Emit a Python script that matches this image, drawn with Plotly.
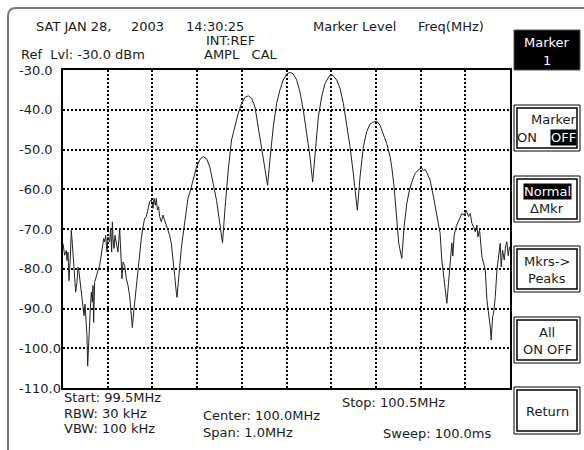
import plotly.graph_objects as go

# spectrum trace
freq_mhz = [
    99.5000, 99.5037, 99.5075, 99.5089, 99.5112, 99.5134, 99.5164, 99.5186, 99.5209, 99.5239,
    99.5261, 99.5283, 99.5313, 99.5336, 99.5358, 99.5388, 99.5410, 99.5447, 99.5470, 99.5492,
    99.5507, 99.5537, 99.5552, 99.5567, 99.5582, 99.5611, 99.5634, 99.5656, 99.5671, 99.5686,
    99.5708, 99.5746, 99.5783, 99.5820, 99.5858, 99.5880, 99.5910, 99.5932, 99.5955, 99.5984,
    99.6007, 99.6044, 99.6066, 99.6089, 99.6104, 99.6119, 99.6141, 99.6163, 99.6193, 99.6230,
    99.6268, 99.6290, 99.6320, 99.6342, 99.6380, 99.6417, 99.6454, 99.6491, 99.6529, 99.6551,
    99.6581, 99.6611, 99.6641, 99.6678, 99.6715, 99.6752, 99.6790, 99.6827, 99.6864, 99.6902,
    99.6939, 99.6976, 99.7013, 99.7036, 99.7066, 99.7088, 99.7110, 99.7140, 99.7163, 99.7200,
    99.7237, 99.7274, 99.7312, 99.7349, 99.7386, 99.7424, 99.7461, 99.7498, 99.7535, 99.7550,
    99.7580, 99.7610, 99.7647, 99.7684, 99.7722, 99.7759, 99.7796,
    99.7838, 99.7912, 99.7987, 99.8062, 99.8136, 99.8211, 99.8285, 99.8360, 99.8435, 99.8509,
    99.8569, 99.8621, 99.8696, 99.8771, 99.8845, 99.8920, 99.8995, 99.9069, 99.9144, 99.9219,
    99.9293, 99.9368, 99.9443, 99.9517, 99.9577, 99.9629, 99.9704, 99.9779, 99.9853, 99.9928,
    100.0003, 100.0077, 100.0152, 100.0227, 100.0301, 100.0376, 100.0451, 100.0525, 100.0585, 100.0637,
    100.0712, 100.0787, 100.0861, 100.0958, 100.1033, 100.1122, 100.1197, 100.1272, 100.1346, 100.1421,
    100.1496, 100.1585, 100.1645, 100.1720, 100.1794, 100.1869, 100.1944, 100.2019,
    100.2093, 100.2168, 100.2242, 100.2317, 100.2354, 100.2407, 100.2466, 100.2511, 100.2579, 100.2631,
    100.2691, 100.2750, 100.2818, 100.2877, 100.2967, 100.3026, 100.3064, 100.3101, 100.3138, 100.3213,
    100.3288, 100.3362, 100.3437, 100.3475, 100.3527, 100.3587, 100.3624, 100.3676, 100.3699, 100.3721,
    100.3751, 100.3796, 100.3863, 100.3923, 100.3975, 100.4021, 100.4073, 100.4110, 100.4148, 100.4185,
    100.4223, 100.4260, 100.4282, 100.4320, 100.4372, 100.4447, 100.4484, 100.4529, 100.4559, 100.4579,
    100.4611, 100.4633, 100.4671, 100.4708, 100.4746, 100.4781, 100.4803, 100.4833, 100.4871, 100.4900,
    100.4930, 100.4960, 100.4990,
]
level_dbm = [
    -73.7, -76.6, -75.4, -77.9, -75.8, -83.0, -77.0, -70.3, -73.7, -78.3,
    -80.4, -85.9, -83.4, -79.6, -80.8, -84.2, -86.8, -89.3, -91.8, -88.9,
    -92.2, -96.9, -104.5, -99.4, -96.0, -90.1, -85.9, -88.4, -84.2, -93.5,
    -83.4, -81.7, -80.4, -79.2, -76.6, -75.4, -72.4, -73.2, -71.6, -75.8,
    -72.0, -73.2, -69.9, -75.8, -68.2, -72.4, -74.9, -71.6, -73.2, -75.8,
    -69.9, -77.0, -82.5, -78.3, -79.2, -82.5, -84.2, -86.8, -92.7, -94.8,
    -91.0, -87.6, -83.4, -79.2, -75.4, -72.4, -69.5, -67.3, -66.9, -65.2,
    -63.1, -62.7, -64.8, -62.3, -64.0, -62.3, -65.2, -64.4, -66.9, -68.2,
    -66.5, -67.8, -69.0, -70.3, -71.6, -73.7, -77.0, -81.7, -85.9, -87.2,
    -83.4, -79.2, -74.9, -71.6, -68.2, -65.2, -62.3,
    -60.8, -57.7, -54.4, -52.5, -51.8, -52.3, -54.4, -58.6, -62.8, -68.7,
    -73.5, -65.3, -55.2, -47.6, -44.3, -40.9, -38.4, -36.9, -36.5, -37.1,
    -39.2, -44.3, -49.3, -55.2, -59.0, -52.7, -44.3, -38.4, -35.0, -32.5,
    -31.0, -30.6, -31.0, -32.5, -35.5, -40.1, -46.0, -51.8, -58.2, -51.0,
    -41.8, -36.7, -33.4, -31.5, -31.3, -32.5, -34.6, -38.4, -43.4, -49.3,
    -56.1, -65.3, -56.9, -49.3, -45.5, -43.6, -43.1, -42.9,
    -43.9, -46.0, -48.5, -51.8, -54.4, -59.4, -66.9, -73.6, -77.4, -69.4,
    -63.6, -60.2, -57.7, -56.0, -55.0, -54.6, -55.3, -55.0, -55.8, -57.7,
    -61.9, -66.1, -71.1, -77.8, -82.9, -88.7, -83.7, -76.2, -73.5, -76.8,
    -71.5, -69.4, -67.4, -66.1, -66.5, -65.3, -66.9, -66.1, -68.6, -69.4,
    -70.7, -69.0, -72.0, -70.3, -77.0, -80.3, -87.9, -91.2, -94.6, -97.9,
    -92.1, -91.2, -87.0, -80.3, -76.2, -73.6, -79.5, -75.3, -77.8, -74.5,
    -73.2, -76.7, -74.5,
]

y_ticks = [-30, -40, -50, -60, -70, -80, -90, -100, -110]
x_start, x_stop = 99.5, 100.5

W, H = 584, 450
L, R, T, B = 63, 74, 70, 62
PW, PH = W - L - R, H - T - B


def px(x):
    return (x - L) / PW


def py(y):
    return (H - B - y) / PH


FONT = "DejaVu Sans"
TXT = "#1a1a1a"

fig = go.Figure()
fig.add_trace(go.Scatter(
    x=freq_mhz, y=level_dbm, mode="lines",
    line=dict(color="#222222", width=1),
    showlegend=False, hoverinfo="skip",
))

annotations = []


def label(x, y, text, anchor="left", color=TXT, bg=None, size=13):
    annotations.append(dict(
        x=px(x), y=py(y), xref="paper", yref="paper", text=text,
        showarrow=False, xanchor=anchor, yanchor="middle",
        font=dict(family=FONT, size=size, color=color),
        bgcolor=bg, borderpad=0,
    ))


# y tick labels, left aligned like the instrument screen
for v in y_ticks:
    annotations.append(dict(
        x=px(17), y=v, xref="paper", yref="y", text=f"{v:.1f}",
        showarrow=False, xanchor="left", yanchor="middle",
        font=dict(family=FONT, size=13, color=TXT),
    ))

# header
label(35, 27, "SAT JAN 28,")
label(130, 27, "2003")
label(185, 27, "14:30:25")
label(205, 41, "INT:REF")
label(20, 55, "Ref  Lvl: -30.0 dBm")
label(203, 55, "AMPL   CAL")
label(312, 27, "Marker Level")
label(417, 27, "Freq(MHz)")

# footer
label(63, 397, f"Start: {x_start}MHz")
label(63, 413, "RBW: 30 kHz")
label(63, 428, "VBW: 100 kHz")
label(202, 415, "Center: 100.0MHz")
label(202, 432, "Span: 1.0MHz")
label(341, 402, f"Stop: {x_stop}MHz")
label(382, 433, "Sweep: 100.0ms")

shapes = []

# outer rounded screen frame (runs off the right and bottom edges)
r = 8
x0, y0, x1, y1 = 8, 8, 640, 500
path = (f"M {px(x0)} {py(y0 + r)} Q {px(x0)} {py(y0)} {px(x0 + r)} {py(y0)} "
        f"L {px(x1)} {py(y0)} L {px(x1)} {py(y1)} L {px(x0)} {py(y1)} Z")
shapes.append(dict(type="path", xref="paper", yref="paper", path=path,
                   line=dict(color="#7a7a7a", width=2), layer="below"))

# soft keys on the right
bx0, bx1 = 514, 580
bcx = (bx0 + bx1) / 2
buttons = [(105, 151), (176, 222), (246, 292), (317, 363), (387, 434)]


def rect(xa, ya, xb, yb, width=1, fill=None, color="black"):
    shapes.append(dict(type="rect", xref="paper", yref="paper",
                       x0=px(xa), x1=px(xb), y0=py(ya), y1=py(yb),
                       line=dict(color=color, width=width),
                       fillcolor=fill))


rect(bx0, 30, bx1, 70, width=1, fill="black", color="#555555")
label(bcx, 43, "Marker", anchor="center", color="white")
label(bcx, 60, "1", anchor="center", color="white")

for ya, yb in buttons:
    rect(bx0, ya, bx1, yb, width=1)
    rect(bx0 + 3, ya + 3, bx1 - 3, yb - 3, width=1.5)

label(bx1 - 2, 120, "Marker", anchor="right")
label(bx0 + 2, 137, "ON", anchor="left")
label(bx1 - 3, 137, "OFF", anchor="right", color="white", bg="black")
label(bcx, 191, "Normal", anchor="center", color="white", bg="black")
label(bcx, 208, "ΔMkr", anchor="center")
label(bcx, 261, "Mkrs->", anchor="center")
label(bcx, 278, "Peaks", anchor="center")
label(bcx, 332, "All", anchor="center")
label(bcx, 349, "ON OFF", anchor="center")
label(bcx, 411, "Return", anchor="center")

axis_common = dict(
    showgrid=True, gridcolor="black", gridwidth=1.5, griddash="2px,2px",
    showline=True, linecolor="black", linewidth=2, mirror=True,
    zeroline=False, ticks="", showticklabels=False,
)

fig.update_layout(
    width=W, height=H,
    margin=dict(l=L, r=R, t=T, b=B),
    paper_bgcolor="white", plot_bgcolor="white",
    xaxis=dict(range=[x_start, x_stop], dtick=0.1, tick0=x_start, **axis_common),
    yaxis=dict(range=[-110, -30], dtick=10, tick0=-110, **axis_common),
    annotations=annotations,
    shapes=shapes,
    showlegend=False,
)

# the page's default body margin would push the 584x450 figure off the window
fig.write_html("out.html", config={"displayModeBar": False},
               post_script="document.body.style.margin='0';")
